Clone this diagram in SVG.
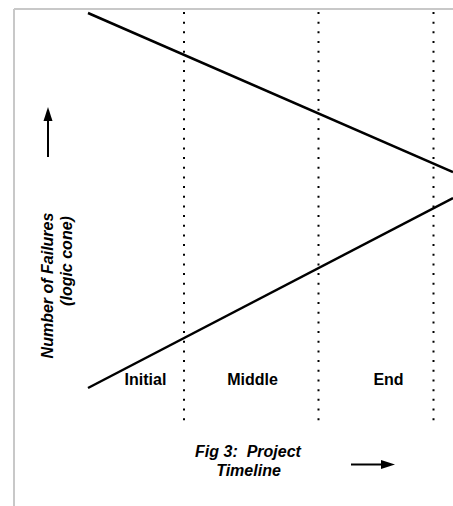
<svg xmlns="http://www.w3.org/2000/svg" width="453" height="506" viewBox="0 0 453 506">
<style>
.b{fill:none;stroke:#c8c8c8;stroke-width:2}
.ln{fill:none;stroke:#000;stroke-width:2.5}
.dot{fill:none;stroke:#000;stroke-width:2;stroke-dasharray:2 7.67}
.ar{fill:none;stroke:#000;stroke-width:2}
.t{font-family:"Liberation Sans",Arial,sans-serif;font-size:16px;font-weight:bold;fill:#000}
.i{font-style:italic}
</style>
<rect width="453" height="506" fill="#fff"/>
<g id="frame">
<line class="b" x1="14" y1="9" x2="453" y2="9"/>
<line class="b" x1="14" y1="9" x2="14" y2="506"/>
</g>
<g id="connectors">
<line class="ln" x1="88" y1="13" x2="453" y2="172"/>
<line class="ln" x1="88" y1="388" x2="453" y2="198"/>
<line class="dot" x1="184" y1="12" x2="184" y2="422"/>
<line class="dot" x1="318.5" y1="12" x2="318.5" y2="422"/>
<line class="dot" x1="433.5" y1="12" x2="433.5" y2="422"/>
<line class="ar" x1="48" y1="118" x2="48" y2="157"/>
<polygon points="48,107 43.5,121 52.5,121" fill="#000"/>
<line class="ar" x1="351" y1="464.5" x2="383" y2="464.5"/>
<polygon points="395,464.5 381,460 381,469" fill="#000"/>
</g>
<g id="yaxis">
<text class="t i" transform="translate(53,285.5) rotate(-90)" text-anchor="middle">Number of Failures</text>
<text class="t i" transform="translate(72,261) rotate(-90)" text-anchor="middle">(logic cone)</text>
</g>
<g id="initial"><text class="t" x="145.5" y="385" text-anchor="middle">Initial</text></g>
<g id="middle"><text class="t" x="252.5" y="385" text-anchor="middle">Middle</text></g>
<g id="end"><text class="t" x="388.5" y="385" text-anchor="middle">End</text></g>
<g id="caption">
<text class="t i" x="248" y="457" text-anchor="middle" xml:space="preserve" style="white-space:pre">Fig 3:  Project</text>
<text class="t i" x="248.5" y="476" text-anchor="middle">Timeline</text>
</g>
</svg>
